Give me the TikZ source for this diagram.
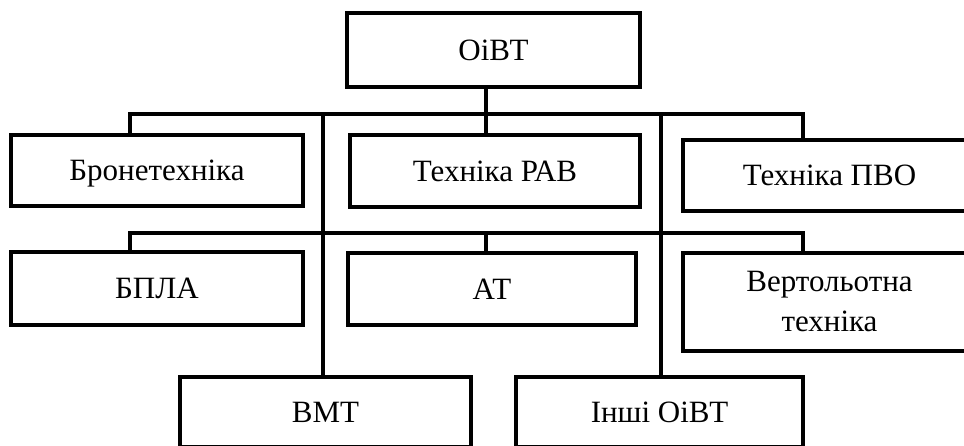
\documentclass[tikz,border=0pt]{standalone}
\usepackage{fontspec}
\setmainfont{Liberation Serif}
\begin{document}
\begin{tikzpicture}[x=1pt,y=-1pt,
  box/.style={draw=black,line width=3.3pt,fill=white,inner sep=0pt,align=center,
    font=\fontsize{31}{40}\selectfont},
  oneline/.style={text height=20.3pt,text depth=0pt},
  conn/.style={draw=black,line width=3.2pt,line join=miter}]
\clip (0,0) rectangle (964,446);
\fill[white] (0,0) rectangle (964,446);
\coordinate (busL) at (130,114);
\coordinate (busM) at (486,114);
\coordinate (busR) at (803,114);
\coordinate (bus2L) at (130,233);
\coordinate (bus2M) at (486,233);
\coordinate (bus2R) at (803,233);
\coordinate (vL) at (323,114);
\coordinate (vR) at (661,114);
% nodes
\node[box,oneline,minimum width=293pt,minimum height=74pt] (top) at (493.5,50) {ОіВТ};
\node[box,oneline,minimum width=292pt,minimum height=71pt] (bron) at (157,170.5) {Бронетехніка};
\node[box,oneline,minimum width=290pt,minimum height=72pt] (rav) at (495,171) {Техніка РАВ};
\node[box,oneline,minimum width=293pt,minimum height=71pt] (pvo) at (829.5,175.5) {Техніка ПВО};
\node[box,oneline,minimum width=292pt,minimum height=73pt] (bpla) at (157,288.5) {БПЛА};
\node[box,oneline,minimum width=288pt,minimum height=72pt] (at) at (492,289) {АТ};
\node[box,minimum width=293pt,minimum height=98pt] (vert) at (829.5,302) {Вертольотна\\техніка};
\node[box,oneline,minimum width=291pt,minimum height=70pt] (vmt) at (325.5,412) {ВМТ};
\node[box,oneline,minimum width=287pt,minimum height=70pt] (inshi) at (659.5,412) {Інші ОіВТ};
% connectors
\draw[conn] (busM |- top.south) -- (busM |- rav.north);
\draw[conn] (busL |- bron.north) -- (busL) -- (busR) -- (busR |- pvo.north);
\draw[conn] (vL) -- (vL |- vmt.north);
\draw[conn] (vR) -- (vR |- inshi.north);
\draw[conn] (bus2L |- bpla.north) -- (bus2L) -- (bus2R) -- (bus2R |- vert.north);
\draw[conn] (bus2M) -- (bus2M |- at.north);
\end{tikzpicture}
\end{document}
